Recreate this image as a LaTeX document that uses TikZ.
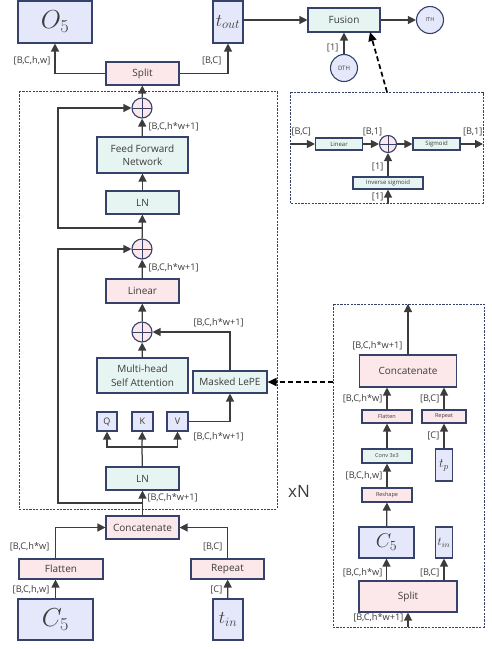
\RequirePackage{fix-cm}
\documentclass[tikz,border=0pt]{standalone}
\usepackage{fontspec}
\setmainfont{Open Sans}
\usepackage{amsmath}
\usetikzlibrary{arrows.meta,calc}
\definecolor{ink}{HTML}{3C3C3C}
\definecolor{edge}{HTML}{36426A}
\definecolor{pinkfill}{HTML}{FCE8EA}
\definecolor{tealfill}{HTML}{E7F5F2}
\definecolor{bluefill}{HTML}{E5E8FA}
\newcommand*{\fsz}[1]{\fontsize{#1}{#1}\selectfont}
\newcommand*{\DimLabels}[2]{% #1 = list of x/y/anchor/dims, #2 = name prefix
\foreach \x/\y/\anc/\dims [count=\i] in {#1} {
\node [lbl, anchor=\anc] (#2\i)
at (\x,\y) {\dims};
}%
}
\tikzset{
  blk/.style={draw=edge, line width=1.1pt, inner sep=0pt, align=center, text=ink,
    font=\fontsize{10}{13.5}\selectfont},
  pinkblk/.style={blk, fill=pinkfill},
  tealblk/.style={blk, fill=tealfill},
  blueblk/.style={blk, fill=bluefill},
  addop/.style={circle, draw=edge, line width=1.1pt, fill=pinkfill, minimum size=20, inner sep=0pt,
    path picture={\draw[edge, line width=0.8pt]
      (path picture bounding box.north) -- (path picture bounding box.south)
      (path picture bounding box.west) -- (path picture bounding box.east);}},
  thr/.style={circle, draw=edge, line width=1.1pt, fill=bluefill, minimum size=27, inner sep=0pt, text=ink},
  lbl/.style={text=ink, font=\fsz{9.2}, inner sep=0.5pt},
  arr/.style={draw=ink, line width=1.25pt, -{Triangle[length=8pt,width=8pt]}},
  dasharr/.style={draw=black, line width=1.7pt, dash pattern=on 5pt off 3pt, -{Triangle[length=9pt,width=8pt]}},
  dbox/.style={draw=edge, line width=0.8pt, dash pattern=on 2.2pt off 1.2pt},
}
\begin{document}
\begin{tikzpicture}[x=1pt,y=-1pt]
\useasboundingbox (0,0) rectangle (491,649);

% outputs and fusion
\node [blueblk, minimum width=74, minimum height=42] (o5) at (55,22) {\fsz{26}$O_5$};
\node [blueblk, minimum width=30, minimum height=42] (tout) at (228,22) {\fsz{18}$t_{out}$};
\node [pinkblk, minimum width=73, minimum height=23] (split) at (142.5,73.5) {Split};
\node [tealblk, minimum width=72, minimum height=24] (fusion) at (344,20) {Fusion};
\node [thr, font=\fsz{5.5}] (ith) at (430,20) {ITH};
\node [thr, font=\fsz{6}] (dth) at (344,68) {DTH};
\coordinate (fusin) at (370,32);

\draw [dbox] (290,92) rectangle (483,203);
\node [tealblk, minimum width=47, minimum height=12, font=\fsz{6}] (flin) at (339,144) {Linear};
\node [addop, minimum size=17] (fadd) at (388,144) {};
\node [tealblk, minimum width=47, minimum height=12, font=\fsz{6}] (fsig) at (436.5,144) {Sigmoid};
\node [tealblk, minimum width=70, minimum height=12, font=\fsz{6}] (finv) at (388,183) {Inverse sigmoid};
\coordinate (fdtop) at (387,92);
\coordinate (fdin) at (290,144);
\coordinate (fdout) at (483,144);
\coordinate (fdbot) at (388,203);

% transformer block
\draw [dbox] (19,91) rectangle (277,509);
\node [addop] (addA) at (142,108) {};
\node [tealblk, minimum width=91, minimum height=36] (ffn) at (142.5,155) {Feed Forward\\Network};
\node [tealblk, minimum width=73, minimum height=23] (lnA) at (142.5,202.5) {LN};
\node [addop] (addB) at (142,249) {};
\node [pinkblk, minimum width=73, minimum height=24] (lin) at (142.5,291) {Linear};
\node [addop] (addC) at (142,332) {};
\node [tealblk, minimum width=91, minimum height=35] (mhsa) at (142.5,375.5) {Multi-head\\Self Attention};
\node [tealblk, minimum width=74, minimum height=22] (lepe) at (230,382) {Masked LePE};
\node [blueblk, minimum width=20, minimum height=19, font=\fsz{9}] (q) at (107,421.5) {Q};
\node [blueblk, minimum width=21, minimum height=19, font=\fsz{9}] (k) at (142.5,421.5) {K};
\node [blueblk, minimum width=21, minimum height=19, font=\fsz{9}] (v) at (177.5,421.5) {V};
\node [tealblk, minimum width=73, minimum height=23] (lnB) at (142.5,478.5) {LN};
\coordinate (qkv) at (142,447);
\coordinate (resA) at (142,228);
\coordinate (resB) at (142,503);
\node [text=ink, font=\fsz{17}, inner sep=0pt] (xn) at (299,491) {xN};

% inputs
\node [pinkblk, minimum width=73, minimum height=23] (cat) at (142.5,527.5) {Concatenate};
\node [pinkblk, minimum width=84, minimum height=20] (flat) at (61,569) {Flatten};
\node [pinkblk, minimum width=73, minimum height=20] (rep) at (227.5,569) {Repeat};
\node [blueblk, minimum width=75, minimum height=41] (c5) at (55.5,619.5) {\fsz{26}$C_5$};
\node [blueblk, minimum width=30, minimum height=41] (tin) at (228,619.5) {\fsz{18}$t_{in}$};

% masked LePE detail
\draw [dbox] (333,304) rectangle (484,627);
\node [pinkblk, minimum width=97, minimum height=32] (catR) at (408,371) {Concatenate};
\node [pinkblk, minimum width=50, minimum height=13, font=\fsz{5.5}] (flatR) at (387,416.5) {Flatten};
\node [pinkblk, minimum width=44, minimum height=13, font=\fsz{5.5}] (repR) at (444,416.5) {Repeat};
\node [tealblk, minimum width=50, minimum height=14, font=\fsz{5.5}] (conv) at (387,456) {Conv 3x3};
\node [pinkblk, minimum width=50, minimum height=14, font=\fsz{5.5}] (reshape) at (387,495) {Reshape};
\node [blueblk, minimum width=17, minimum height=32] (tp) at (444,465) {\fsz{13}$t_p$};
\node [blueblk, minimum width=55, minimum height=31] (c5R) at (386.5,542.5) {\fsz{20}$C_5$};
\node [blueblk, minimum width=17, minimum height=31] (tinR) at (444,542.5) {\fsz{12}$t_{in}$};
\node [pinkblk, minimum width=98, minimum height=31] (splitR) at (408,596.5) {Split};
\coordinate (rin) at (408,627);
\coordinate (rout) at (408,304);
\coordinate (rleft) at (333,382);

% connectors
\draw [arr] (split) -| (o5);
\draw [arr] (split) -| (tout);
\draw [arr] (tout.east |- fusion) -- (fusion);
\draw [arr] (fusion) -- (ith);
\draw [arr] (dth) -- (fusion);
\draw [dasharr] (fdtop) -- (fusin);
\draw [arr] (fdin) -- (flin);
\draw [arr] (flin) -- (fadd);
\draw [arr] (fadd) -- (fsig);
\draw [arr] (fsig) -- (fdout);
\draw [arr] (finv) -- (fadd);
\draw [arr] (fdbot) -- (finv);

\draw [arr] (addA) -- (split);
\draw [arr] (ffn) -- (addA);
\draw [arr] (lnA) -- (ffn);
\draw [arr] (addB) -- (lnA);
\draw [arr] (lin) -- (addB);
\draw [arr] (addC) -- (lin);
\draw [arr] (mhsa) -- (addC);
\draw [arr] (lepe) |- (addC);
\draw [arr] (v) -| (lepe);
\draw [arr] (qkv) -| (q);
\draw [arr] (qkv) -- (k);
\draw [arr] (qkv) -| (v);
\draw [ink, line width=1.25pt] (lnB) -- (qkv);
\draw [arr] (resA) -- ++(-84,0) |- (addA);
\draw [arr] (resB) -- ++(-84,0) |- (addB);
\draw [arr] (cat) -- (lnB);
\draw [arr] (c5) -- (c5 |- flat.south);
\draw [arr] (c5 |- flat.north) |- (cat);
\draw [arr] (tin) -- (rep);
\draw [arr] (rep) |- (cat);

\draw [dasharr] (rleft) -- (lepe);
\draw [arr] (rin) -- (rin |- splitR.south);
\draw [arr] (c5R |- splitR.north) -- (c5R);
\draw [arr] (tinR |- splitR.north) -- (tinR);
\draw [arr] (c5R) -- (reshape);
\draw [arr] (reshape) -- (conv);
\draw [arr] (conv) -- (flatR);
\draw [arr] (flatR) -- (flatR |- catR.south);
\draw [arr] (tp) -- (repR);
\draw [arr] (repR) -- (repR |- catR.south);
\draw [arr] (catR) -- (rout);

% shape labels
\DimLabels{51/61/east/{[B,C,h,w]}, 222/61/east/{[B,C]}, 148/127/west/{[B,C,h*w+1]},
  148/268/west/{[B,C,h*w+1]}, 193/323/west/{[B,C,h*w+1]}, 193/437/west/{[B,C,h*w+1]},
  147/498/west/{[B,C,h*w+1]}, 50/547/east/{[B,C,h*w]}, 50/590/east/{[B,C,h,w]},
  223/547/east/{[B,C]}, 223/590/east/{[C]}}{dimA}
\DimLabels{339/48/east/{[1]}, 291/132/west/{[B,C]}, 372.5/132/center/{[B,1]}, 483/132/east/{[B,1]},
  384/167/east/{[1]}, 384/197/east/{[1]}}{dimF}
\DimLabels{403/346/east/{[B,C,h*w+1]}, 383/399/east/{[B,C,h*w]}, 440/399/east/{[B,C]},
  440/436/east/{[C]}, 383/476/east/{[B,C,h,w]}, 383/573/east/{[B,C,h*w]}, 440/573/east/{[B,C]},
  404/618/east/{[B,C,h*w+1]}}{dimR}
\end{tikzpicture}
\end{document}
